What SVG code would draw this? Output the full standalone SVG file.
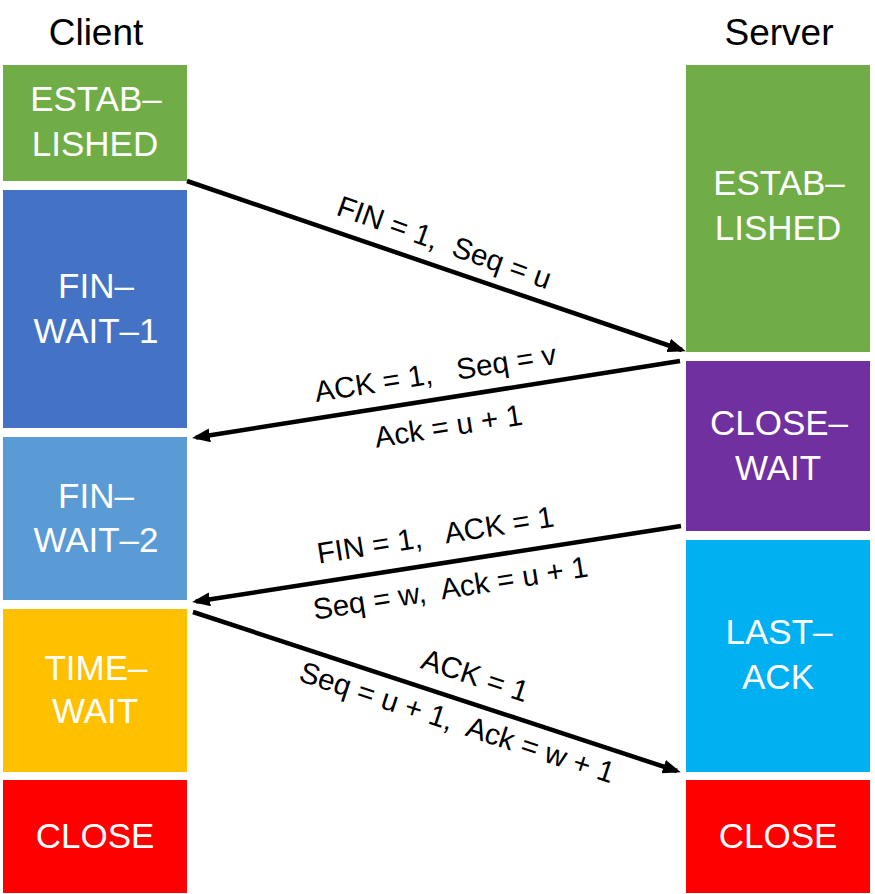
<svg xmlns="http://www.w3.org/2000/svg" width="875" height="894" viewBox="0 0 875 894">
<style>
.title{font-family:"Liberation Sans",Arial,sans-serif;font-size:37px;fill:#000;text-anchor:middle}
.st{font-family:"Liberation Sans",Arial,sans-serif;font-size:35px;fill:#fff;text-anchor:middle}
.lbl{font-family:"Liberation Sans",Arial,sans-serif;font-size:29.5px;fill:#000;text-anchor:middle}
.conn{stroke:#000;stroke-width:4.5;fill:none}
</style>
<defs>
<marker id="ah" markerUnits="userSpaceOnUse" markerWidth="18" markerHeight="14" refX="14" refY="7" orient="auto">
<path d="M0,0 L18,7 L0,14 Z" fill="#000"/>
</marker>
</defs>
<rect width="875" height="894" fill="#fff"/>
<text class="title" x="96" y="45">Client</text>
<text class="title" x="779" y="45">Server</text>

<g id="c-established"><rect x="3" y="65" width="184" height="116" fill="#70AD47"/><text class="st" x="96" y="111">ESTAB–</text><text class="st" x="95" y="156">LISHED</text></g>
<g id="c-finwait1"><rect x="3" y="190" width="184" height="238" fill="#4472C4"/><text class="st" x="96" y="298">FIN–</text><text class="st" x="96" y="343">WAIT–1</text></g>
<g id="c-finwait2"><rect x="3" y="437" width="184" height="163" fill="#5B9BD5"/><text class="st" x="96" y="508">FIN–</text><text class="st" x="96" y="552">WAIT–2</text></g>
<g id="c-timewait"><rect x="3" y="609" width="184" height="163" fill="#FFC000"/><text class="st" x="96" y="680">TIME–</text><text class="st" x="95" y="723">WAIT</text></g>
<g id="c-close"><rect x="3" y="780" width="184" height="113" fill="#FF0000"/><text class="st" x="95" y="848">CLOSE</text></g>

<g id="s-established"><rect x="686" y="65" width="184" height="287" fill="#70AD47"/><text class="st" x="779" y="195">ESTAB–</text><text class="st" x="778" y="240">LISHED</text></g>
<g id="s-closewait"><rect x="686" y="361" width="184" height="170" fill="#7030A0"/><text class="st" x="779" y="435">CLOSE–</text><text class="st" x="778" y="480">WAIT</text></g>
<g id="s-lastack"><rect x="686" y="540" width="184" height="232" fill="#00B0F0"/><text class="st" x="779" y="644">LAST–</text><text class="st" x="778" y="689">ACK</text></g>
<g id="s-close"><rect x="686" y="780" width="184" height="113" fill="#FF0000"/><text class="st" x="778" y="848">CLOSE</text></g>

<g id="connectors">
<line class="conn" x1="187" y1="181" x2="682" y2="350" marker-end="url(#ah)"/>
<line class="conn" x1="680" y1="361" x2="196" y2="437.5" marker-end="url(#ah)"/>
<line class="conn" x1="681" y1="526" x2="196" y2="601.5" marker-end="url(#ah)"/>
<line class="conn" x1="193" y1="612" x2="677" y2="771" marker-end="url(#ah)"/>
</g>

<g id="labels">
<text class="lbl" xml:space="preserve" transform="translate(441,252) rotate(19.5)" x="0" y="0">FIN = 1,  Seq = u</text>
<text class="lbl" xml:space="preserve" transform="translate(437,383) rotate(-9)" x="0" y="0">ACK = 1,   Seq = v</text>
<text class="lbl" xml:space="preserve" transform="translate(450,436) rotate(-9)" x="0" y="0">Ack = u + 1</text>
<text class="lbl" xml:space="preserve" transform="translate(437,545) rotate(-9)" x="0" y="0">FIN = 1,   ACK = 1</text>
<text class="lbl" xml:space="preserve" transform="translate(452,598) rotate(-9)" x="0" y="0">Seq = w,  Ack = u + 1</text>
<text class="lbl" xml:space="preserve" transform="translate(472,685) rotate(18.2)" x="0" y="0">ACK = 1</text>
<text class="lbl" xml:space="preserve" transform="translate(454,732) rotate(18.2)" x="0" y="0">Seq = u + 1,  Ack = w + 1</text>
</g>
</svg>
